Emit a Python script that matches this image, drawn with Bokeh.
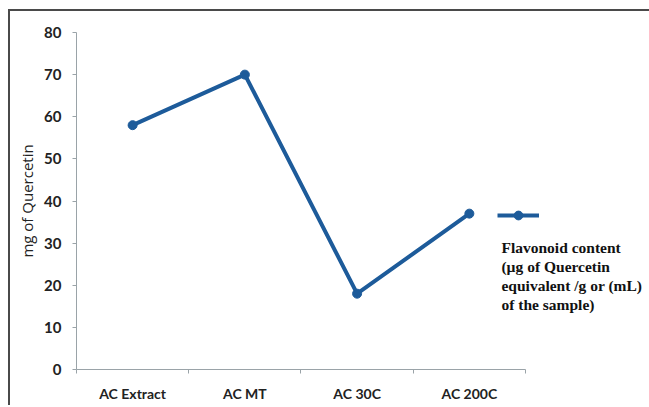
from bokeh.plotting import figure
from bokeh.models import (Range1d, FixedTicker, Legend, LegendItem, Label)
from bokeh.embed import file_html
from bokeh.resources import INLINE

categories = ["AC Extract", "AC MT", "AC 30C", "AC 200C"]
values = [58, 70, 18, 37]
y_ticks = [0, 10, 20, 30, 40, 50, 60, 70, 80]
series_label = "Flavonoid content\n(µg of Quercetin\nequivalent /g or (mL)\nof the sample)"

n = len(categories)
x_pos = [i + 0.5 for i in range(n)]
boundaries = list(range(n + 1))

LINE = "#1d5b9a"
AXIS = "#9aa3a8"

# frame spans to the right edge so the side legend text is not clipped;
# the x axis itself is bounded to the category extent
p = figure(width=649, height=405, output_backend="svg", toolbar_location=None,
           x_range=Range1d(0, 5.105), y_range=Range1d(0, 80),
           min_border_left=76, min_border_right=0, min_border_top=32,
           min_border_bottom=36)
p.styles = {"box-shadow": "inset 8px 9px 0 0 #ffffff, inset 10px 11px 0 0 #4a4a4a"}
p.border_fill_alpha = 0
p.background_fill_alpha = 0
p.outline_line_color = None
p.xgrid.grid_line_color = None
p.ygrid.grid_line_color = None

ln = p.line(x_pos, values, line_color=LINE, line_width=4)
sc = p.scatter(x_pos, values, size=9, fill_color=LINE, line_color=LINE)

xa = p.xaxis[0]
xa.bounds = (0, n)
xa.ticker = FixedTicker(ticks=x_pos, minor_ticks=boundaries)
xa.major_label_overrides = {x: c for x, c in zip(x_pos, categories)}
xa.major_tick_line_color = None
xa.minor_tick_line_color = AXIS
xa.minor_tick_out = 4
xa.minor_tick_in = 0
xa.axis_line_color = AXIS
xa.major_label_text_font = "Lato"
xa.major_label_text_font_style = "bold"
xa.major_label_text_font_size = "14px"
xa.major_label_text_color = "#222222"
xa.major_label_standoff = 9

ya = p.yaxis[0]
ya.ticker = FixedTicker(ticks=y_ticks, minor_ticks=[])
ya.major_tick_line_color = AXIS
ya.major_tick_out = 4
ya.major_tick_in = 0
ya.minor_tick_line_color = None
ya.axis_line_color = AXIS
ya.major_label_text_font = "Lato"
ya.major_label_text_font_style = "bold"
ya.major_label_text_font_size = "15px"
ya.major_label_text_color = "#222222"
ya.major_label_standoff = 11
ya.axis_label = "mg of Quercetin"
ya.axis_label_text_font = "Open Sans"
ya.axis_label_text_font_style = "normal"
ya.axis_label_text_font_size = "15px"
ya.axis_label_text_color = "#222222"
ya.axis_label_standoff = 4

legend = Legend(items=[LegendItem(label=" ", renderers=[ln, sc])],
                location=(421, 143), glyph_width=42, glyph_height=22,
                padding=0, margin=0, spacing=0, label_standoff=0,
                border_line_alpha=0, background_fill_alpha=0,
                label_text_font_size="10px")
p.add_layout(legend, "center")

txt = Label(x=3.786, y=30.9, text=series_label, text_font="Liberation Serif",
            text_font_size="15.5px", text_font_style="bold", text_color="#111111",
            text_baseline="top", text_align="left", text_line_height=1.12)
p.add_layout(txt)

open("out.html", "w").write(file_html(p, INLINE))
